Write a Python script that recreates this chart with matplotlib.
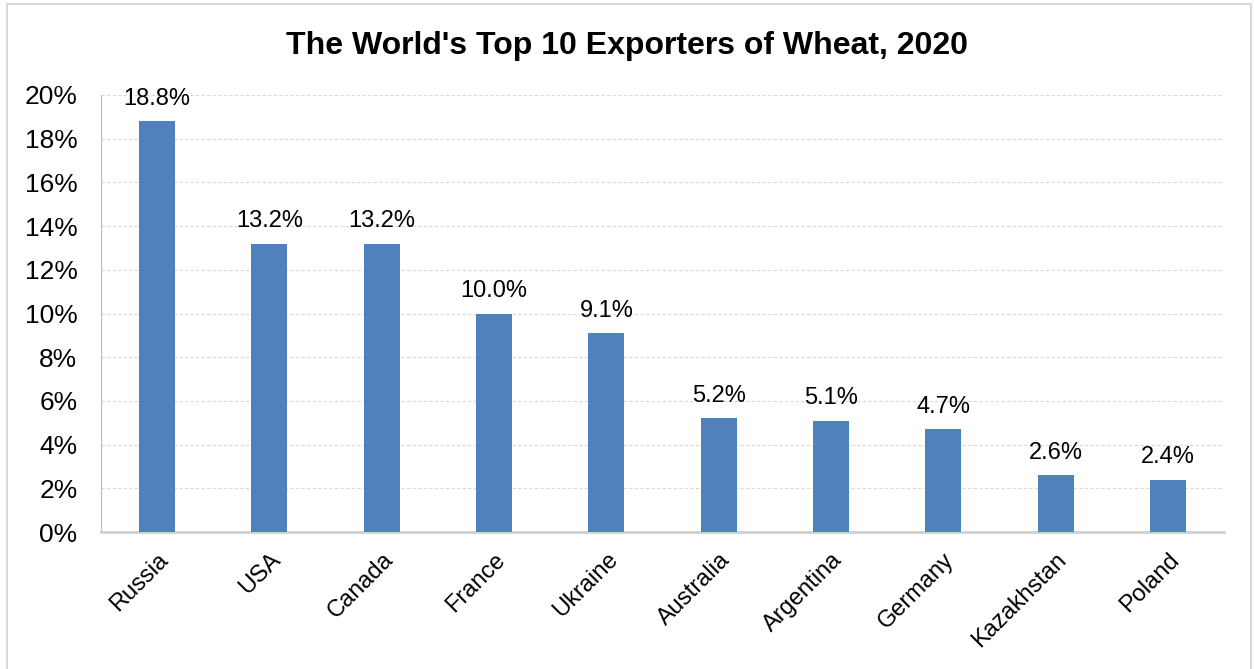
import matplotlib
matplotlib.use("Agg")
import matplotlib.pyplot as plt
from matplotlib.patches import Rectangle

countries = ["Russia", "USA", "Canada", "France", "Ukraine",
             "Australia", "Argentina", "Germany", "Kazakhstan", "Poland"]
shares = [18.8, 13.2, 13.2, 10.0, 9.1, 5.2, 5.1, 4.7, 2.6, 2.4]
yticks = [0, 2, 4, 6, 8, 10, 12, 14, 16, 18, 20]

plt.rcParams["font.family"] = ["Liberation Sans", "DejaVu Sans"]

W, H = 1254, 669
fig = plt.figure(figsize=(W / 100, H / 100), dpi=100)
ax = fig.add_axes([101 / W, 1 - 532 / H, (1224 - 101) / W, (532 - 95) / H])

x = list(range(len(countries)))
bars = ax.bar(x, shares, width=0.32, color="#4f81bd", zorder=3)
for xi, v in zip(x, shares):
    ax.annotate(f"{v:.1f}%", (xi, v), xytext=(0, 8), textcoords="offset points",
                ha="center", va="bottom", fontsize=17, color="black")

ax.set_xlim(-0.5, len(countries) - 0.5)
ax.set_ylim(0, 20)
ax.set_yticks(yticks)
ax.set_yticklabels([f"{t}%" for t in yticks], fontsize=19)
ax.set_xticks(x)
ax.set_xticklabels(countries, rotation=45, ha="right", rotation_mode="anchor", fontsize=17)
ax.tick_params(axis="both", length=0)
ax.tick_params(axis="y", pad=17)
ax.tick_params(axis="x", pad=12)

ax.grid(axis="y", color="#d9d9d9", linestyle=(0, (3, 2)), linewidth=0.8, zorder=0)
for s in ("top", "right"):
    ax.spines[s].set_visible(False)
ax.spines["left"].set_color("#9dc3e6")
ax.spines["left"].set_linestyle((0, (1, 1)))
ax.spines["left"].set_linewidth(0.8)
ax.spines["bottom"].set_color("#d0d0d0")
ax.spines["bottom"].set_linewidth(2)

fig.text(0.5, 1 - 46 / H, "The World's Top 10 Exporters of Wheat, 2020",
         ha="center", va="center", fontsize=23, fontweight="bold")

fig.patches.append(Rectangle((7 / W, -0.01), (1251 - 7) / W, 1 - 4 / H + 0.01,
                             transform=fig.transFigure, fill=False,
                             edgecolor="#d9d9d9", linewidth=1.5))

fig.savefig("out.png", dpi=100)
